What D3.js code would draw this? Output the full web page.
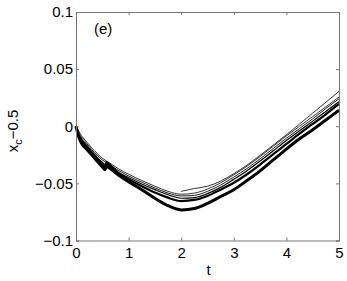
<!DOCTYPE html>
<html>
<head>
<meta charset="utf-8">
<script src="https://cdn.jsdelivr.net/npm/d3@7.9.0/dist/d3.min.js"></script>
<style>
  body { margin: 0; background: #fff; }
  svg { display: block; font-family: "Liberation Sans", Arial, sans-serif; }
</style>
</head>
<body>
<div id="chart"></div>
<script>
// time samples shared by the full curves
const tFull = [0, 0.05, 0.1, 0.2, 0.3, 0.4, 0.45, 0.5, 0.55, 0.58, 0.6, 0.8, 1.0, 1.25, 1.5, 1.75, 2.0,
  2.25, 2.5, 2.75, 3.0, 3.25, 3.5, 3.75, 4.0, 4.25, 4.5, 4.75, 5.0];

// x_c - 0.5 for each run
const runA = [0, -0.009, -0.0145, -0.02, -0.025, -0.0305, -0.033, -0.0355, -0.038, -0.035, -0.0355, -0.0425, -0.0485,
  -0.0555, -0.063, -0.0695, -0.0732, -0.072, -0.0675, -0.0615, -0.0555, -0.0475, -0.039, -0.0295, -0.02, -0.011, -0.003, 0.0055, 0.014];
const runB = [0, -0.008, -0.0125, -0.018, -0.0235, -0.0285, -0.031, -0.0335, -0.0355, -0.0325, -0.033, -0.041, -0.0465,
  -0.0525, -0.058, -0.0625, -0.0655, -0.0645, -0.061, -0.0555, -0.0495, -0.042, -0.0335, -0.0245, -0.0155, -0.0065, 0.002, 0.0105, 0.0195];
const runC = [0, -0.007, -0.011, -0.0165, -0.022, -0.027, -0.0295, -0.0315, -0.0335, -0.031, -0.0315, -0.04, -0.045,
  -0.0505, -0.0555, -0.06, -0.063, -0.0625, -0.059, -0.0535, -0.0465, -0.039, -0.0305, -0.0215, -0.0125, -0.004, 0.0045, 0.013, 0.0215];
const runD = [0, -0.0055, -0.0095, -0.015, -0.0205, -0.025, -0.0275, -0.0295, -0.031, -0.032, -0.0325, -0.0385, -0.0435,
  -0.049, -0.054, -0.0585, -0.061, -0.0605, -0.057, -0.0515, -0.0445, -0.037, -0.0285, -0.0195, -0.0105, -0.002, 0.0065, 0.0155, 0.024];
const runE = [0, -0.004, -0.008, -0.0135, -0.019, -0.0235, -0.026, -0.028, -0.0295, -0.0305, -0.031, -0.037, -0.042,
  -0.0475, -0.0525, -0.057, -0.0595, -0.0585, -0.055, -0.0495, -0.0425, -0.035, -0.0265, -0.0175, -0.0085, 0.0, 0.0085, 0.017, 0.0255];

// short run starting at t = 2
const tShort = [2.0, 2.25, 2.5, 2.75, 3.0, 3.25, 3.5, 3.75, 4.0, 4.25, 4.5, 4.75, 5.0];
const runF = [-0.057, -0.0545, -0.0525, -0.048, -0.0415, -0.034, -0.0255, -0.0165, -0.0075, 0.002, 0.0115, 0.021, 0.0305];

const xTicks = [0, 1, 2, 3, 4, 5];
const yTicks = [-0.1, -0.05, 0, 0.05, 0.1];
const yTickLabels = ["\u22120.1", "\u22120.05", "0", "0.05", "0.1"];

const width = 347, height = 281;
const margin = { top: 12, right: 8, bottom: 40.5, left: 76 };

const svg = d3.select('#chart')
  .append('svg')
  .attr('width', width)
  .attr('height', height);

const x = d3.scaleLinear().domain([0, 5]).range([margin.left, width - margin.right]);
const y = d3.scaleLinear().domain([-0.1, 0.1]).range([height - margin.bottom, margin.top]);

const axisColor = '#777';

// curves
const line = d3.line()
  .x(d => x(d[0]))
  .y(d => y(d[1]))
  .curve(d3.curveMonotoneX);

const runs = [
  { t: tFull, v: runE, w: 0.8 },
  { t: tFull, v: runD, w: 0.9 },
  { t: tFull, v: runC, w: 1.2 },
  { t: tFull, v: runB, w: 2.2 },
  { t: tFull, v: runA, w: 3.0 },
  { t: tShort, v: runF, w: 0.8 },
];

svg.append('g')
  .selectAll('path')
  .data(runs)
  .join('path')
  .attr('d', r => line(r.t.map((t, i) => [t, r.v[i]])))
  .attr('fill', 'none')
  .attr('stroke', '#000')
  .attr('stroke-width', r => r.w);

// axes: ticks point inward, box around plot
const tickLen = 3;
const axBottom = svg.append('g')
  .attr('transform', `translate(0,${y(-0.1)})`)
  .call(d3.axisBottom(x).tickValues(xTicks).tickSize(-tickLen).tickPadding(7).tickFormat(d3.format('d')));
const axTop = svg.append('g')
  .attr('transform', `translate(0,${y(0.1)})`)
  .call(d3.axisTop(x).tickValues(xTicks).tickSize(-tickLen).tickFormat(''));
const axLeft = svg.append('g')
  .attr('transform', `translate(${x(0)},0)`)
  .call(d3.axisLeft(y).tickValues(yTicks).tickSize(-tickLen).tickPadding(3)
    .tickFormat((d, i) => yTickLabels[i]));
const axRight = svg.append('g')
  .attr('transform', `translate(${x(5)},0)`)
  .call(d3.axisRight(y).tickValues(yTicks).tickSize(-tickLen).tickFormat(''));

[axBottom, axTop, axLeft, axRight].forEach(g => {
  g.selectAll('.domain').attr('stroke', axisColor);
  g.selectAll('.tick line').attr('stroke', axisColor);
  g.selectAll('.tick text').attr('fill', '#000').attr('font-size', 15)
    .attr('font-family', '"Liberation Sans", Arial, sans-serif');
});

// axis labels
svg.append('text')
  .attr('x', x(2.5) + 1)
  .attr('y', 275)
  .attr('text-anchor', 'middle')
  .attr('font-size', 15)
  .text('t');

const ylab = svg.append('text')
  .attr('transform', `translate(17.5,131) rotate(-90)`)
  .attr('text-anchor', 'middle')
  .attr('font-size', 15);
ylab.append('tspan').text('x');
ylab.append('tspan').attr('font-size', 11).attr('dy', 4).text('c');
ylab.append('tspan').attr('dy', -4).text('\u22120.5');

// panel tag
svg.append('text')
  .attr('x', 94)
  .attr('y', 34)
  .attr('font-size', 15)
  .text('(e)');
</script>
</body>
</html>
